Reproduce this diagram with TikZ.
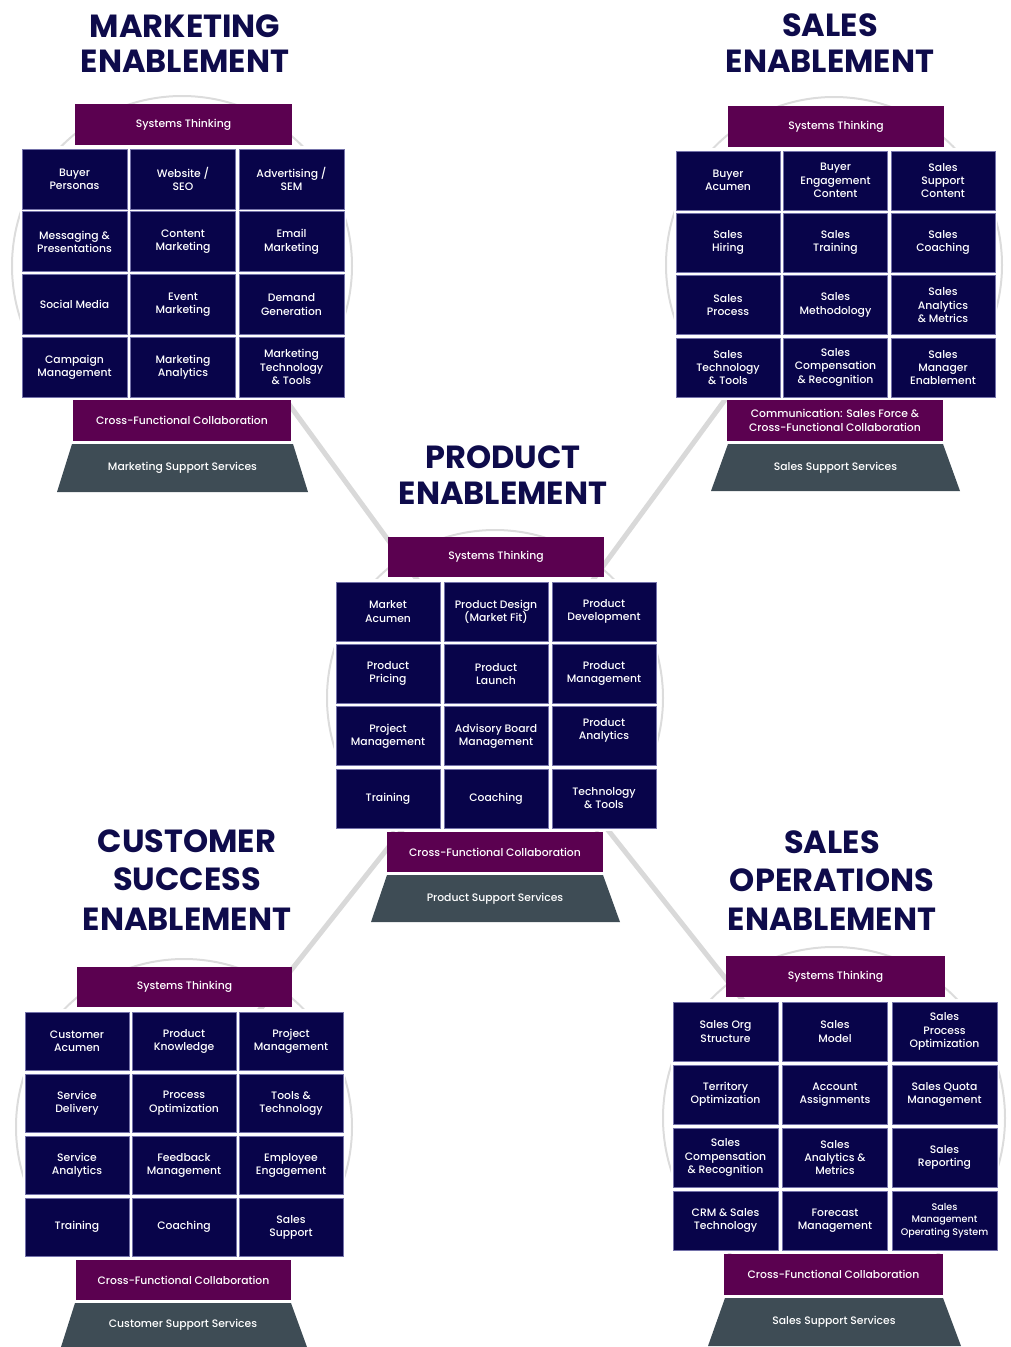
\documentclass[tikz,border=0pt]{standalone}
\usepackage{fontspec}
\setmainfont{Poppins}
\newfontfamily\pmed{Poppins Medium}
\definecolor{navy}{HTML}{08044A}
\definecolor{plum}{HTML}{5B0150}
\definecolor{slate}{HTML}{3E4C55}
\definecolor{headnavy}{HTML}{0E0B4B}
\definecolor{ringgray}{HTML}{DCDCDC}
\definecolor{linkgray}{HTML}{D9D9D9}
\definecolor{celledge}{HTML}{7472AA}

% grid geometry of the current block: left, top, cell size, column/row pitch
\def\mygX{0}\def\mygY{0}\def\mycW{105}\def\mycH{60}\def\mysX{108}\def\mysY{62}
\newcommand\setgrid[6]{\def\mygX{#1}\def\mygY{#2}\def\mycW{#3}\def\mycH{#4}\def\mysX{#5}\def\mysY{#6}%
  \fill[white] ({#1-2},{#2-3}) rectangle ({#1+2*#5+#3+2},{#2+3*#6+#4+3});}
% one tile of the 3x4 grid
\newcommand\tile[5][]{\node[cell,#1] (#2) at ({\mygX+#3*\mysX+\mycW/2},{\mygY+#4*\mysY+\mycH/2}) {#5};}
% a coloured band between (x1,y1) and (x2,y2)
\newcommand\band[6]{\node[band, minimum width={#5-#3}, minimum height={#6-#4}] (#1) at ({(#3+#5)/2},{(#4+#6)/2}) {#2};}
% trapezoid base: top x1,x2 at y, bottom x1,x2 at y
\newcommand\base[8]{\fill[slate] (#2,#4) -- (#3,#4) -- (#6,#7) -- (#5,#7) -- cycle;
  \node[basetext] (#1) at ({(#2+#3)/2},{(#4+#7)/2}) {#8};}

\begin{document}
\begin{tikzpicture}[x=1pt,y=-1pt,
  ring/.style={circle, draw=ringgray, line width=2pt, inner sep=0pt},
  link/.style={draw=linkgray, line width=5pt},
  cell/.style={fill=navy, draw=celledge, line width=0.6pt, text=white, align=center,
    font=\pmed\fontsize{10.8}{13.3}\selectfont, minimum width=\mycW, minimum height=\mycH, inner sep=0pt},
  small/.style={font=\pmed\fontsize{9.6}{12.3}\selectfont},
  band/.style={fill=plum, text=white, align=center, font=\pmed\fontsize{10.8}{13.3}\selectfont, inner sep=0pt},
  basetext/.style={text=white, font=\pmed\fontsize{10.8}{13.3}\selectfont, inner sep=0pt},
  title/.style={text=headnavy, font=\fontsize{32}{36}\selectfont\bfseries, anchor=base, inner sep=0pt}]
\useasboundingbox (0,0) rectangle (1010,1347);

% ---- outline rings ----
\node[ring, minimum size=340] (mkRing) at (182,266) {};
\node[ring, minimum size=336] (slRing) at (834,265) {};
\node[ring, minimum size=336] (pdRing) at (495,698) {};
\node[ring, minimum size=336] (csRing) at (184,1127) {};
\node[ring, minimum size=342] (soRing) at (834,1118) {};

% ---- spokes joining the blocks ----
\coordinate (hub) at (505,700);
\coordinate (mkEnd) at (188,266);
\coordinate (slEnd) at (823,266);
\coordinate (csEnd) at (167,1127);
\coordinate (soEnd) at (836,1118);
\draw[link] (mkEnd) -- (hub);
\draw[link] (slEnd) -- (hub);
\draw[link] (csEnd) -- (hub);
\draw[link] (soEnd) -- (hub);

% ---- headings ----
\node[title] (mkT1) at (185,37) {MARKETING};
\node[title] (mkT2) at (185,72) {ENABLEMENT};
\node[title] (slT1) at (830,36) {SALES};
\node[title] (slT2) at (830,72) {ENABLEMENT};
\node[title] (pdT1) at (503,468) {PRODUCT};
\node[title] (pdT2) at (503,504) {ENABLEMENT};
\node[title] (csT1) at (187,852) {CUSTOMER};
\node[title] (csT2) at (187,890) {SUCCESS};
\node[title] (csT3) at (187,930) {ENABLEMENT};
\node[title] (soT1) at (832,853) {SALES};
\node[title] (soT2) at (832,891) {OPERATIONS};
\node[title] (soT3) at (832,930) {ENABLEMENT};

% ---- marketing enablement ----
\setgrid{22}{149}{105}{60}{108.5}{62.7}
\band{mkST}{Systems Thinking}{75}{104}{292}{145}
\tile{mk1}{0}{0}{Buyer\\Personas}
\tile{mk2}{1}{0}{Website /\\SEO}
\tile{mk3}{2}{0}{Advertising /\\SEM}
\tile{mk4}{0}{1}{Messaging \&\\Presentations}
\tile{mk5}{1}{1}{Content\\Marketing}
\tile{mk6}{2}{1}{Email\\Marketing}
\tile{mk7}{0}{2}{Social Media}
\tile{mk8}{1}{2}{Event\\Marketing}
\tile{mk9}{2}{2}{Demand\\Generation}
\tile{mk10}{0}{3}{Campaign\\Management}
\tile{mk11}{1}{3}{Marketing\\Analytics}
\tile{mk12}{2}{3}{Marketing\\Technology\\\& Tools}
\band{mkCF}{Cross-Functional Collaboration}{73}{400}{291}{441}
\base{mkSup}{72}{293}{444}{57}{308}{492}{Marketing Support Services}

% ---- sales enablement ----
\setgrid{676}{151}{104}{59}{107.5}{62.3}
\band{slST}{Systems Thinking}{728}{106}{944}{147}
\tile{sl1}{0}{0}{Buyer\\Acumen}
\tile{sl2}{1}{0}{Buyer\\Engagement\\Content}
\tile{sl3}{2}{0}{Sales\\Support\\Content}
\tile{sl4}{0}{1}{Sales\\Hiring}
\tile{sl5}{1}{1}{Sales\\Training}
\tile{sl6}{2}{1}{Sales\\Coaching}
\tile{sl7}{0}{2}{Sales\\Process}
\tile{sl8}{1}{2}{Sales\\Methodology}
\tile{sl9}{2}{2}{Sales\\Analytics\\\& Metrics}
\tile{sl10}{0}{3}{Sales\\Technology\\\& Tools}
\tile{sl11}{1}{3}{Sales\\Compensation\\\& Recognition}
\tile{sl12}{2}{3}{Sales\\Manager\\Enablement}
\band{slCF}{Communication: Sales Force \&\\Cross-Functional Collaboration}{727}{400}{943}{441}
\base{slSup}{728}{943}{444}{711}{960}{491}{Sales Support Services}

% ---- product enablement ----
\setgrid{336}{582}{104}{59}{108}{62.3}
\band{pdST}{Systems Thinking}{388}{537}{604}{577}
\tile{pd1}{0}{0}{Market\\Acumen}
\tile{pd2}{1}{0}{Product Design\\(Market Fit)}
\tile{pd3}{2}{0}{Product\\Development}
\tile{pd4}{0}{1}{Product\\Pricing}
\tile{pd5}{1}{1}{Product\\Launch}
\tile{pd6}{2}{1}{Product\\Management}
\tile{pd7}{0}{2}{Project\\Management}
\tile{pd8}{1}{2}{Advisory Board\\Management}
\tile{pd9}{2}{2}{Product\\Analytics\\[0.5pt]}
\tile{pd10}{0}{3}{Training}
\tile{pd11}{1}{3}{Coaching}
\tile{pd12}{2}{3}{Technology\\\& Tools}
\band{pdCF}{Cross-Functional Collaboration}{387}{832}{603}{872}
\base{pdSup}{387}{603}{875}{371}{620}{922}{Product Support Services}

% ---- customer success enablement ----
\setgrid{25}{1012}{104}{58.5}{107}{62}
\band{csST}{Systems Thinking}{77}{967}{292}{1007}
\tile{cs1}{0}{0}{Customer\\Acumen}
\tile{cs2}{1}{0}{Product\\Knowledge}
\tile{cs3}{2}{0}{Project\\Management}
\tile{cs4}{0}{1}{Service\\Delivery}
\tile{cs5}{1}{1}{Process\\Optimization}
\tile{cs6}{2}{1}{Tools \&\\Technology}
\tile{cs7}{0}{2}{Service\\Analytics}
\tile{cs8}{1}{2}{Feedback\\Management}
\tile{cs9}{2}{2}{Employee\\Engagement}
\tile{cs10}{0}{3}{Training}
\tile{cs11}{1}{3}{Coaching}
\tile{cs12}{2}{3}{Sales\\Support}
\band{csCF}{Cross-Functional Collaboration}{76}{1260}{291}{1300}
\base{csSup}{75}{291}{1303}{61}{307}{1347}{Customer Support Services}

% ---- sales operations enablement ----
\setgrid{673}{1002}{105}{59}{109.5}{63}
\band{soST}{Systems Thinking}{726}{956}{945}{997}
\tile{so1}{0}{0}{Sales Org\\Structure}
\tile{so2}{1}{0}{Sales\\Model}
\tile{so3}{2}{0}{Sales\\Process\\Optimization}
\tile{so4}{0}{1}{Territory\\Optimization}
\tile{so5}{1}{1}{Account\\Assignments}
\tile{so6}{2}{1}{Sales Quota\\Management}
\tile{so7}{0}{2}{Sales\\Compensation\\\& Recognition}
\tile{so8}{1}{2}{Sales\\Analytics \&\\Metrics}
\tile{so9}{2}{2}{Sales\\Reporting}
\tile{so10}{0}{3}{CRM \& Sales\\Technology}
\tile{so11}{1}{3}{Forecast\\Management}
\tile[small]{so12}{2}{3}{Sales\\Management\\Operating System}
\band{soCF}{Cross-Functional Collaboration}{724}{1254}{943}{1295}
\base{soSup}{725}{943}{1298}{708}{961}{1346}{Sales Support Services}
\end{tikzpicture}
\end{document}
